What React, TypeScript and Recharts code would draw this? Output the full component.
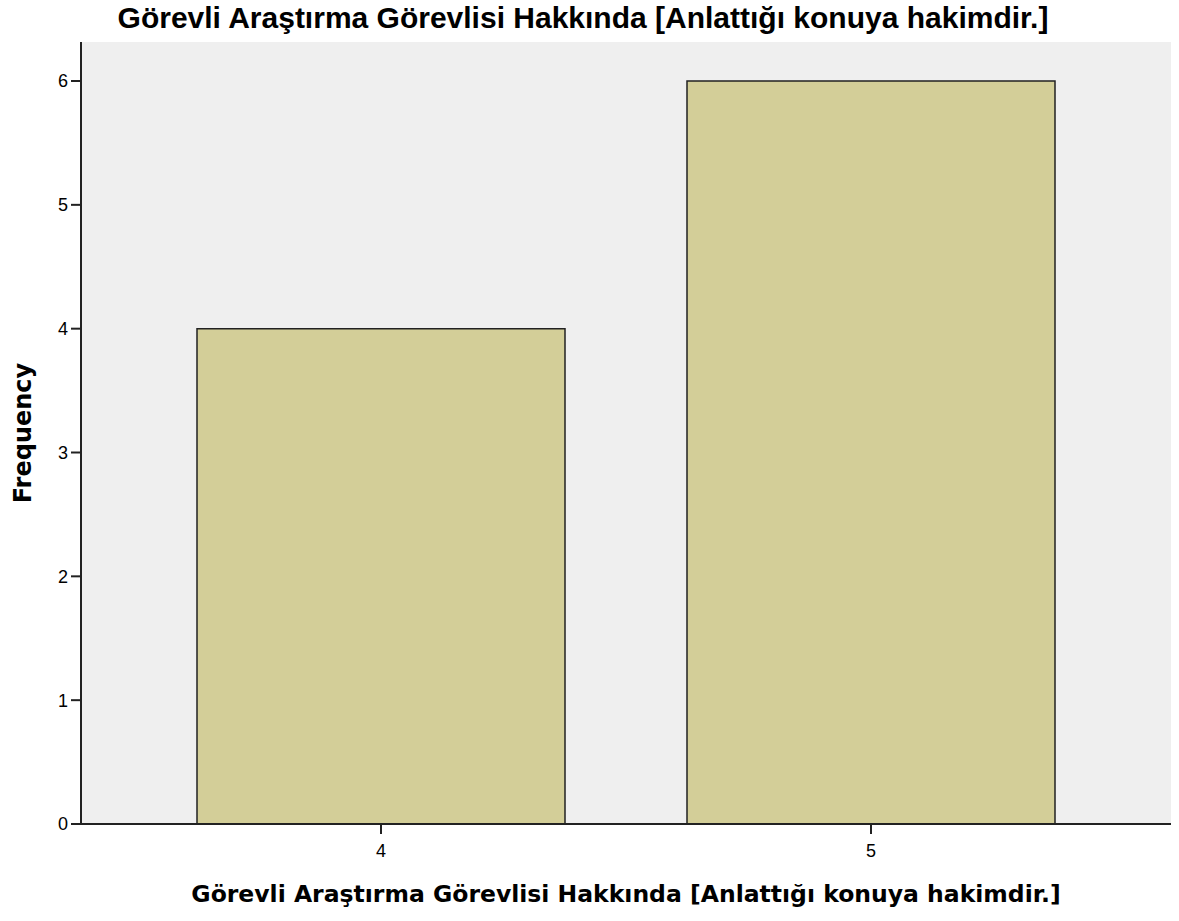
import { BarChart, Bar, XAxis, YAxis, CartesianGrid } from "recharts"

const categories = ["4", "5"]
const frequencies = [4, 6]
const yTicks = [0, 1, 2, 3, 4, 5, 6]

const TITLE = "Görevli Araştırma Görevlisi Hakkında [Anlattığı konuya hakimdir.]"

const data = categories.map((c, i) => ({ value: c, count: frequencies[i] }))

const FONT = "'Liberation Sans', Arial, sans-serif"
const LABEL_FONT = "'DejaVu Sans', Tahoma, sans-serif"

function YLabel(props: any) {
    const vb = props.viewBox || {}
    const cy = vb.y + vb.height / 2
    const x = 31
    return (
        <text
            x={x}
            y={cy}
            transform={`rotate(-90, ${x}, ${cy})`}
            textAnchor="middle"
            fontFamily={LABEL_FONT}
            fontWeight="bold"
            fontSize={24}
            fill="#000"
        >
            Frequency
        </text>
    )
}

export default function App() {
    return (
        <div style={{ position: "absolute", left: 0, top: 0, width: 1179, height: 921, background: "#fff" }}>
            <div
                style={{
                    position: "absolute",
                    left: 0,
                    top: 1,
                    width: 1166,
                    textAlign: "center",
                    fontFamily: FONT,
                    fontWeight: "bold",
                    fontSize: 30,
                    lineHeight: "34px",
                    color: "#000",
                    whiteSpace: "nowrap",
                }}
            >
                {TITLE}
            </div>
            <BarChart
                width={1179}
                height={921}
                data={data}
                margin={{ top: 42, right: 8, left: 0, bottom: 0 }}
                barCategoryGap={0}
            >
                <CartesianGrid fill="#efefef" horizontal={false} vertical={false} />
                <XAxis
                    dataKey="value"
                    height={97}
                    padding={{ left: 55, right: 55 }}
                    tickSize={10}
                    tickMargin={10}
                    axisLine={{ stroke: "#222", strokeWidth: 2 }}
                    tickLine={{ stroke: "#222", strokeWidth: 2 }}
                    tick={{ fill: "#000", fontSize: 18, fontFamily: FONT }}
                    label={{
                        value: TITLE,
                        position: "insideBottom",
                        offset: 19,
                        fill: "#000",
                        fontSize: 23.5,
                        fontWeight: "bold",
                        fontFamily: LABEL_FONT,
                    }}
                />
                <XAxis
                    xAxisId="top"
                    dataKey="value"
                    orientation="top"
                    height={0}
                    tick={false}
                    tickLine={false}
                    axisLine={{ stroke: "#444", strokeWidth: 2 }}
                />
                <YAxis
                    width={81}
                    domain={[0, 6.315]}
                    ticks={yTicks}
                    allowDataOverflow
                    tickSize={10}
                    tickMargin={3}
                    axisLine={{ stroke: "#222", strokeWidth: 2 }}
                    tickLine={{ stroke: "#222", strokeWidth: 2 }}
                    tick={{ fill: "#000", fontSize: 18, fontFamily: FONT }}
                    label={<YLabel />}
                />
                <YAxis
                    yAxisId="right"
                    orientation="right"
                    width={0}
                    domain={[0, 6.315]}
                    tick={false}
                    tickLine={false}
                    axisLine={{ stroke: "#444", strokeWidth: 2 }}
                />
                <Bar
                    dataKey="count"
                    barSize={368}
                    fill="#d3ce98"
                    stroke="#222"
                    strokeWidth={1.5}
                    isAnimationActive={false}
                />
            </BarChart>
        </div>
    )
}
